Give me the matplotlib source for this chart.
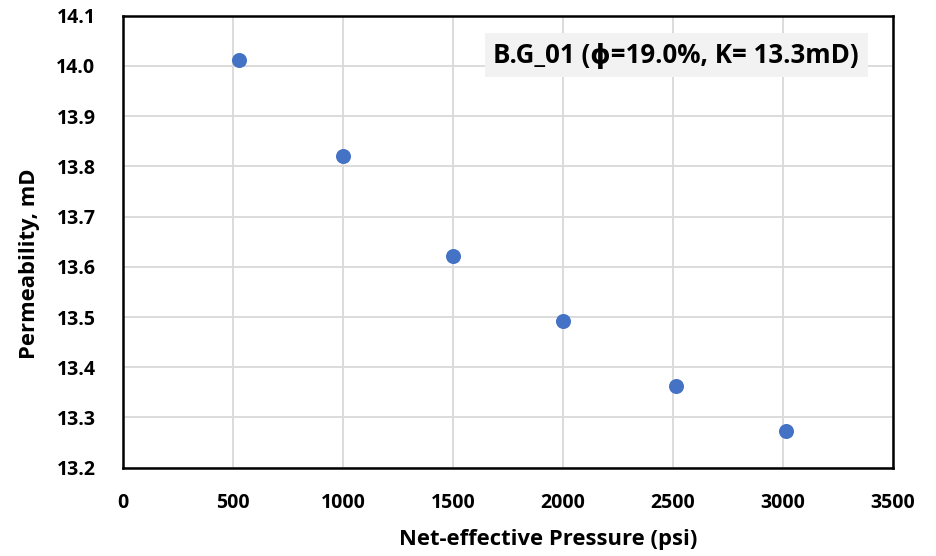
import matplotlib
matplotlib.use("Agg")
import matplotlib.pyplot as plt
from matplotlib.patches import Rectangle

pressure = [525, 1000, 1500, 2000, 2515, 3015]
permeability = [14.012, 13.820, 13.621, 13.492, 13.362, 13.273]
x_ticks = [0, 500, 1000, 1500, 2000, 2500, 3000, 3500]
y_ticks = [13.2, 13.3, 13.4, 13.5, 13.6, 13.7, 13.8, 13.9, 14.0, 14.1]
annotation = "B.G_01 (ϕ=19.0%, K= 13.3mD)"

plt.rcParams['font.family'] = ['Open Sans', 'DejaVu Sans']
W = 'bold'

fig = plt.figure(figsize=(9.36, 5.56), dpi=100)
ax = fig.add_axes([0.1317, 0.1588, 0.8220, 0.8130])

ax.scatter(pressure, permeability, s=117, color='#4472C4', zorder=3, linewidths=0)

ax.set_xlim(0, 3500)
ax.set_ylim(13.2, 14.1)
ax.set_xticks(x_ticks)
ax.set_yticks(y_ticks)
ax.set_yticklabels([f"{v:.1f}" for v in y_ticks])
ax.grid(True, color='#D9D9D9', linewidth=1.3, zorder=0)
ax.set_axisbelow(True)
for sp in ax.spines.values():
    sp.set_color('black')
    sp.set_linewidth(1.8)
ax.tick_params(axis='both', length=0, labelsize=14)
ax.tick_params(axis='x', pad=18)
ax.tick_params(axis='y', pad=20)
for lbl in ax.get_xticklabels() + ax.get_yticklabels():
    lbl.set_fontweight(W)

ax.set_xlabel("Net-effective Pressure (psi)", fontsize=15.8, fontweight=W)
ax.xaxis.set_label_coords(0.552, -0.135)
ax.set_ylabel("Permeability, mD", fontsize=15.8, fontweight=W)
ax.yaxis.set_label_coords(-0.108, 0.451)

ax.add_patch(Rectangle((0.4697, 0.8644), 0.4987, 0.0973, transform=ax.transAxes,
                       facecolor='#F2F2F2', edgecolor='none', zorder=4))
ax.text(0.718, 0.912, annotation, transform=ax.transAxes, ha='center', va='center',
        fontsize=18.6, fontweight=W, zorder=5)

fig.savefig("out.png", dpi=100)
